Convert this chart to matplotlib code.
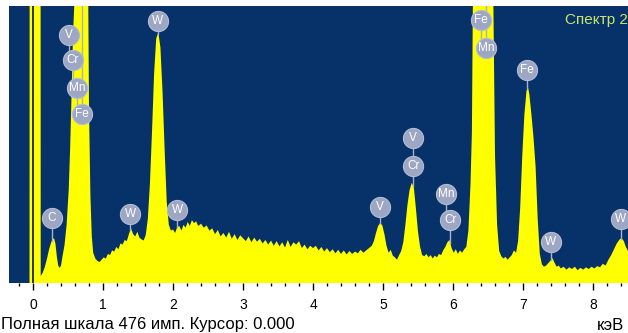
import numpy as np
import matplotlib
matplotlib.use("Agg")
import matplotlib.pyplot as plt

plt.rcParams['font.family'] = ['Liberation Sans', 'DejaVu Sans']

# ---- spectrum data (energy keV, counts) ----
energy = [
    -0.35, -0.06, -0.05, -0.04, 0.10, 0.11, 0.14, 0.17, 0.20, 0.23, 0.26, 0.28, 0.30, 0.32,
    0.34, 0.36, 0.38, 0.40, 0.42, 0.45, 0.48, 0.51, 0.53, 0.55, 0.57, 0.59, 0.60, 0.78,
    0.79, 0.80, 0.82, 0.84, 0.86, 0.89, 0.92, 0.95, 0.98, 1.01, 1.04, 1.07, 1.10, 1.13,
    1.16, 1.19, 1.22, 1.25, 1.28, 1.31, 1.34, 1.37, 1.40, 1.43, 1.46, 1.49, 1.52, 1.55,
    1.58, 1.61, 1.64, 1.67, 1.70, 1.73, 1.76, 1.79, 1.82, 1.85, 1.88, 1.91, 1.94, 1.97,
    2.00, 2.03, 2.06, 2.09, 2.12, 2.15, 2.18, 2.21, 2.24, 2.27, 2.30, 2.33, 2.36, 2.40,
    2.44, 2.48, 2.52, 2.56, 2.60, 2.64, 2.68, 2.72, 2.76, 2.80, 2.84, 2.88, 2.92, 2.96,
    3.00, 3.04, 3.08, 3.12, 3.16, 3.20, 3.24, 3.28, 3.32, 3.36, 3.40, 3.44, 3.48, 3.52,
    3.56, 3.60, 3.64, 3.68, 3.72, 3.76, 3.80, 3.84, 3.88, 3.92, 3.96, 4.00, 4.04, 4.08,
    4.12, 4.16, 4.20, 4.24, 4.28, 4.32, 4.36, 4.40, 4.44, 4.48, 4.52, 4.56, 4.60, 4.64,
    4.68, 4.72, 4.76, 4.80, 4.84, 4.87, 4.90, 4.93, 4.96, 4.99, 5.02, 5.05, 5.08, 5.11,
    5.14, 5.17, 5.20, 5.23, 5.26, 5.29, 5.32, 5.35, 5.38, 5.41, 5.44, 5.47, 5.50, 5.53,
    5.56, 5.59, 5.62, 5.65, 5.68, 5.71, 5.74, 5.77, 5.80, 5.83, 5.86, 5.89, 5.92, 5.95,
    5.98, 6.01, 6.04, 6.07, 6.10, 6.13, 6.16, 6.19, 6.22, 6.25, 6.27, 6.285, 6.30, 6.56,
    6.575, 6.60, 6.63, 6.66, 6.69, 6.72, 6.75, 6.78, 6.81, 6.84, 6.87, 6.90, 6.93, 6.96,
    6.99, 7.02, 7.05, 7.07, 7.09, 7.12, 7.15, 7.18, 7.21, 7.24, 7.27, 7.30, 7.33, 7.36,
    7.39, 7.42, 7.45, 7.48, 7.51, 7.54, 7.58, 7.62, 7.66, 7.70, 7.74, 7.78, 7.82, 7.86,
    7.90, 7.94, 7.98, 8.02, 8.06, 8.10, 8.14, 8.18, 8.22, 8.26, 8.30, 8.34, 8.38, 8.41,
    8.44, 8.47, 8.50, 8.55,
]
counts = [
    0, 0, 0, 3000, 3000, 12, 18, 28, 42, 58, 70, 75, 77, 68,
    46, 30, 26, 30, 45, 65, 100, 160, 230, 320, 420, 480, 3000, 3000,
    470, 300, 150, 80, 52, 42, 38, 36, 40, 44, 42, 50, 48, 56,
    54, 62, 58, 68, 66, 74, 72, 84, 94, 84, 80, 88, 78, 75,
    73, 82, 110, 170, 260, 360, 420, 431, 405, 330, 230, 140, 100, 90,
    92, 86, 96, 98, 90, 100, 95, 105, 98, 108, 103, 106, 98, 102,
    95, 99, 90, 94, 84, 91, 80, 86, 78, 88, 76, 84, 74, 82,
    77, 72, 80, 70, 78, 71, 76, 68, 74, 66, 73, 64, 72, 63,
    70, 61, 74, 62, 70, 66, 72, 60, 66, 58, 64, 60, 64, 56,
    62, 54, 60, 53, 58, 51, 57, 50, 56, 49, 55, 50, 54, 51,
    57, 52, 56, 60, 64, 72, 86, 98, 103, 99, 84, 64, 52, 57,
    47, 44, 40, 48, 55, 70, 100, 135, 160, 172, 165, 128, 88, 62,
    48, 46, 50, 44, 48, 42, 47, 44, 50, 48, 56, 62, 70, 74,
    60, 52, 58, 50, 56, 52, 58, 62, 90, 170, 260, 500, 3000, 3000,
    500, 220, 100, 55, 46, 42, 45, 40, 44, 48, 56, 52, 72, 130,
    220, 290, 330, 337, 325, 290, 250, 200, 110, 50, 32, 28, 30, 34,
    38, 43, 35, 28, 30, 25, 28, 23, 27, 24, 28, 22, 26, 23,
    27, 24, 28, 25, 29, 27, 33, 30, 40, 48, 58, 68, 75, 77,
    72, 62, 55, 45,
]

# ---- peak labels ----
label_names = ['V', 'Cr', 'Mn', 'Fe', 'C', 'W', 'W', 'W', 'V', 'V', 'Cr',
               'Mn', 'Cr', 'Fe', 'Mn', 'Fe', 'W', 'W']
label_energy = [0.51, 0.57, 0.63, 0.70, 0.27, 1.78, 1.39, 2.06, 4.96, 5.43, 5.43,
                5.90, 5.96, 6.40, 6.47, 7.06, 7.40, 8.40]
label_height = [426, 383, 335, 290, 112, 450, 119, 125, 131, 249, 201,
                153, 108, 452, 404, 366, 70, 110]

xticks = [0, 1, 2, 3, 4, 5, 6, 7, 8]
full_scale = 476
cursor = 0.000

BG = '#063269'
YEL = '#ffff00'

fig = plt.figure(figsize=(6.28, 3.33), dpi=100)
fig.patch.set_facecolor('white')
ax = fig.add_axes([9/628, 50/333, 619/628, 277/333])
ax.set_facecolor(BG)
ax.set_xlim(-0.343, 8.5)
ax.set_ylim(0, full_scale)

e = np.array(energy)
c = np.array(counts)
ax.fill_between(e, 0, c, color=YEL, lw=0, zorder=1)
ax.axvline(cursor, color='#1b2438', lw=1.3, zorder=1.5)

# stems: to the next label below in the same stack, otherwise to the spectrum
for i, (name, le, lh) in enumerate(zip(label_names, label_energy, label_height)):
    below = [label_height[j] for j in range(len(label_names))
             if j != i and abs(label_energy[j] - le) < 0.1 and label_height[j] < lh]
    if below:
        bottom = max(below)
    else:
        bottom = min(np.interp(le, e, c), full_scale)
    ax.plot([le, le], [lh, bottom], color='#a9b1c9', lw=1.0, zorder=2)
for name, le, lh in zip(label_names, label_energy, label_height):
    ax.plot([le], [lh], marker='o', ms=14.5, mfc='#9da7c4', mec='#b4bcd4',
            mew=0.8, zorder=3)
    ax.text(le, lh, name, color='white', fontsize=8.5, ha='center', va='center',
            zorder=4)

for s in ax.spines.values():
    s.set_visible(False)
ax.set_yticks([])
ax.set_xticks(xticks)
ax.set_xticklabels([str(t) for t in xticks], fontsize=10)
ax.set_xticks(np.arange(-0.2, 8.6, 0.2), minor=True)
ax.tick_params(axis='x', which='major', direction='out', length=5, width=1,
               color='black', pad=6)
ax.tick_params(axis='x', which='minor', direction='out', length=2.5, width=1,
               color='black')

fig.text(565/628, 1 - 20/333, 'Спектр 2', color='#c9e46a', fontsize=11,
         ha='left', va='center')
fig.text(1/628, 1 - 325/333, f'Полная шкала {full_scale} имп. Курсор: {cursor:.3f}',
         color='black', fontsize=12, ha='left', va='center')
fig.text(597/628, 1 - 325/333, 'кэВ', color='black', fontsize=12,
         ha='left', va='center')

fig.savefig('out.png', dpi=100, facecolor='white')
